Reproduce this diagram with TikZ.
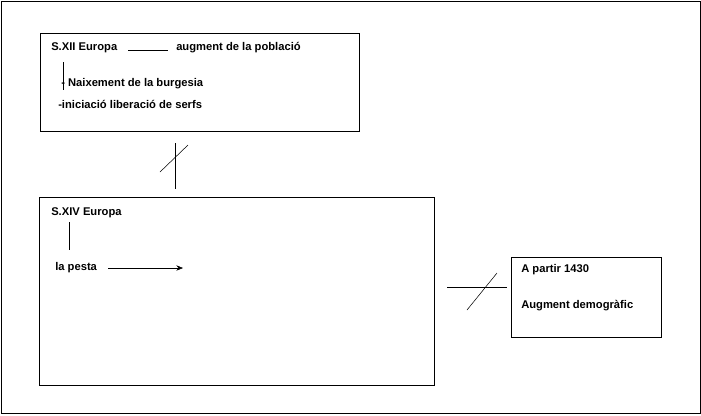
\documentclass[tikz,border=0pt]{standalone}
\usepackage{fontspec}
\setmainfont{Liberation Sans}
\usetikzlibrary{positioning, arrows.meta}
\tikzset{txt/.style={anchor=west, inner sep=0.75pt, font=\fontsize{8.4}{10}\selectfont\bfseries}}
\begin{document}
\begin{tikzpicture}[x=0.75pt,y=0.75pt,yscale=-1,xscale=1]
\useasboundingbox (0,0) rectangle (701,415);
%Shape: Rectangle [id:outer]
\draw [line width=0.6pt] (1,1) rectangle (700,413);
%Shape: Rectangle [id:boxXII]
\draw [line width=0.6pt] (40,33) rectangle (359,131);
%Shape: Rectangle [id:boxXIV]
\draw [line width=0.6pt] (39,197) rectangle (434,385);
%Shape: Rectangle [id:box1430]
\draw [line width=0.6pt] (511,257) rectangle (661,337);

% Text Node
\node (xii) [txt] at (50,48) {S.XII Europa};
\node (aug) [txt] at (175,48) {augment de la població};
\coordinate (l1a) at (128,50);
\coordinate (l1b) at (168,50);
\draw (l1a) -- (l1b);
\coordinate (v1a) at (63,62);
\coordinate (v1b) at (63,90);
\draw (v1a) -- (v1b);
\node (naix) [txt] at (60,84) {- Naixement de la burgesia};
\node (inic) [txt] at (57,104) {-iniciació liberació de serfs};

%Straight Lines [id:cross1]
\draw (175,143) -- (175,189);
\draw (160,172) -- (188,145);

% Text Node
\node (xiv) [txt] at (50,213) {S.XIV Europa};
\coordinate (v2a) at (69,222);
\coordinate (v2b) at (69,250);
\draw (v2a) -- (v2b);
\node (pesta) [txt] at (54,268) {la pesta};
\coordinate (pa) at (108,268);
\coordinate (pb) at (183,268);
\draw [-{Stealth[length=5pt,width=4pt]}] (pa) -- (pb);

%Straight Lines [id:cross2]
\draw (447,287) -- (507,287);
\draw (467,310) -- (497,273);

% Text Node
\node (partir) [txt] at (520,270) {A partir 1430};
\node (demo) [txt] at (520,306) {Augment demogràfic};
\end{tikzpicture}
\end{document}
